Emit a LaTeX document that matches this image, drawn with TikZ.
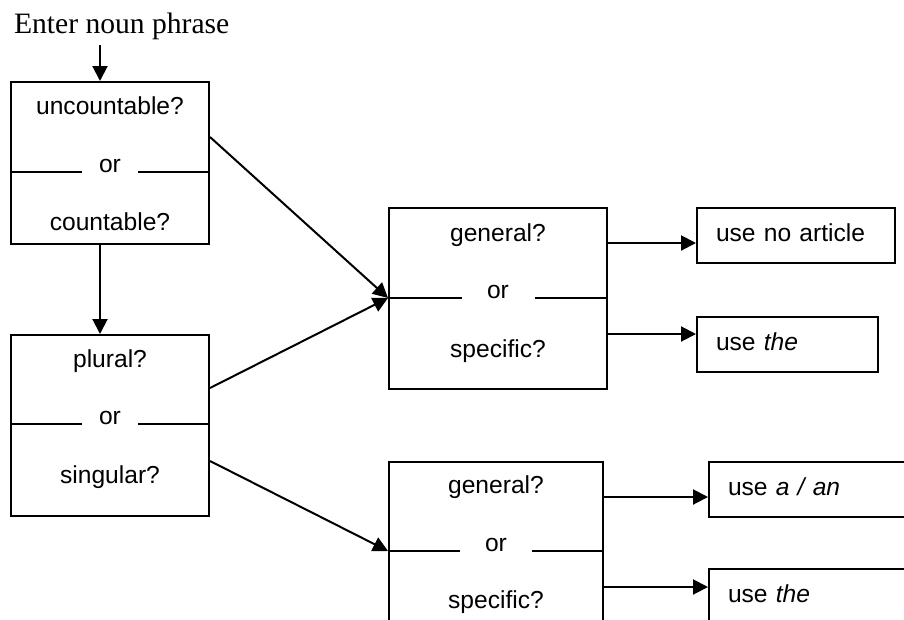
\documentclass[tikz,border=0pt]{standalone}
\usepackage{fontspec}
\setmainfont{Liberation Sans}
\newfontfamily\timesfont{Liberation Serif}
\usepackage{tikz}
\usetikzlibrary{arrows.meta}

\newcommand{\labfont}{\fontsize{24.6}{29}\selectfont}

\begin{document}
\begin{tikzpicture}[x=1pt, y=-1pt, line width=2pt,
    qbox/.style={draw, anchor=north west, inner sep=0pt},
    qtext/.style={anchor=base, font=\labfont, inner sep=0pt},
    ortext/.style={anchor=base, font=\labfont, inner sep=0pt},
    resbox/.style={draw, anchor=north west, font=\labfont, align=left,
      minimum height=55pt, inner xsep=19pt, inner ysep=0pt,
      text height=17pt, text depth=6pt},
    arr/.style={-{Triangle[length=15pt,width=15pt]}}]
  \path[use as bounding box, clip] (0,0) rectangle (904,619);

  \node[font=\timesfont\fontsize{29.6}{34}\selectfont, anchor=base west, inner sep=0pt]
    (enter) at (13,33) {Enter noun phrase};

  % countable or not
  \node[qbox, minimum width=198pt, minimum height=162pt] (count) at (10,81) {};
  \node[qtext] (count-q1) at ([yshift=-33pt]count.north) {uncountable?};
  \node[ortext, minimum width=54pt] (count-or) at ([yshift=-91pt]count.north) {or};
  \node[qtext] (count-q2) at ([yshift=-149pt]count.north) {countable?};
  \draw (count.west |- count-or.base) -- (count-or.base west)
        (count-or.base east) -- (count.east |- count-or.base);

  % plural or singular
  \node[qbox, minimum width=198pt, minimum height=181pt] (number) at (10,334) {};
  \node[qtext] (number-q1) at ([yshift=-33pt]number.north) {plural?};
  \node[ortext, minimum width=54pt] (number-or) at ([yshift=-90pt]number.north) {or};
  \node[qtext] (number-q2) at ([yshift=-149pt]number.north) {singular?};
  \draw (number.west |- number-or.base) -- (number-or.base west)
        (number-or.base east) -- (number.east |- number-or.base);

  % general or specific, upper
  \node[qbox, minimum width=218pt, minimum height=181pt] (gen1) at (388,207) {};
  \node[qtext] (gen1-q1) at ([yshift=-34pt]gen1.north) {general?};
  \node[ortext, minimum width=71pt] (gen1-or) at ([yshift=-91pt]gen1.north) {or};
  \node[qtext] (gen1-q2) at ([yshift=-150pt]gen1.north) {specific?};
  \draw (gen1.west |- gen1-or.base) -- (gen1-or.base west)
        (gen1-or.base east) -- (gen1.east |- gen1-or.base);

  % general or specific, lower
  \node[qbox, minimum width=214pt, minimum height=181pt] (gen2) at (388,461) {};
  \node[qtext] (gen2-q1) at ([yshift=-32pt]gen2.north) {general?};
  \node[ortext, minimum width=70pt] (gen2-or) at ([yshift=-90pt]gen2.north) {or};
  \node[qtext] (gen2-q2) at ([yshift=-147pt]gen2.north) {specific?};
  \draw (gen2.west |- gen2-or.base) -- (gen2-or.base west)
        (gen2-or.base east) -- (gen2.east |- gen2-or.base);

  % answers
  \node[resbox, text width=160pt] (noart) at (696,207) {use no article};
  \node[resbox, text width=143pt] (the1) at (696,316) {use \textit{the}};
  \node[resbox, text width=172pt] (aan) at (708,461) {use \textit{a / an}};
  \node[resbox, text width=172pt] (the2) at (708,568) {use \textit{the}};

  % arrows
  \coordinate (in) at (100,45);
  \draw[arr] (in) -- (count.north -| in);
  \draw[arr] (count.south -| in) -- (number.north -| in);

  \coordinate (gen1-in) at (gen1.west |- gen1-or.base);
  \coordinate (gen2-in) at (gen2.west |- gen2-or.base);
  \draw[arr] ([yshift=-56pt]count.north east) -- (gen1-in);
  \draw[arr] ([yshift=-54pt]number.north east) -- (gen1-in);
  \draw[arr] ([yshift=-127pt]number.north east) -- (gen2-in);

  \foreach \q/\r/\d in {gen1/noart/36, gen1/the1/127, gen2/aan/36, gen2/the2/126}
    \draw[arr] ([yshift=-\d pt]\q.north east) coordinate (out) -- (\r.west |- out);
\end{tikzpicture}
\end{document}
